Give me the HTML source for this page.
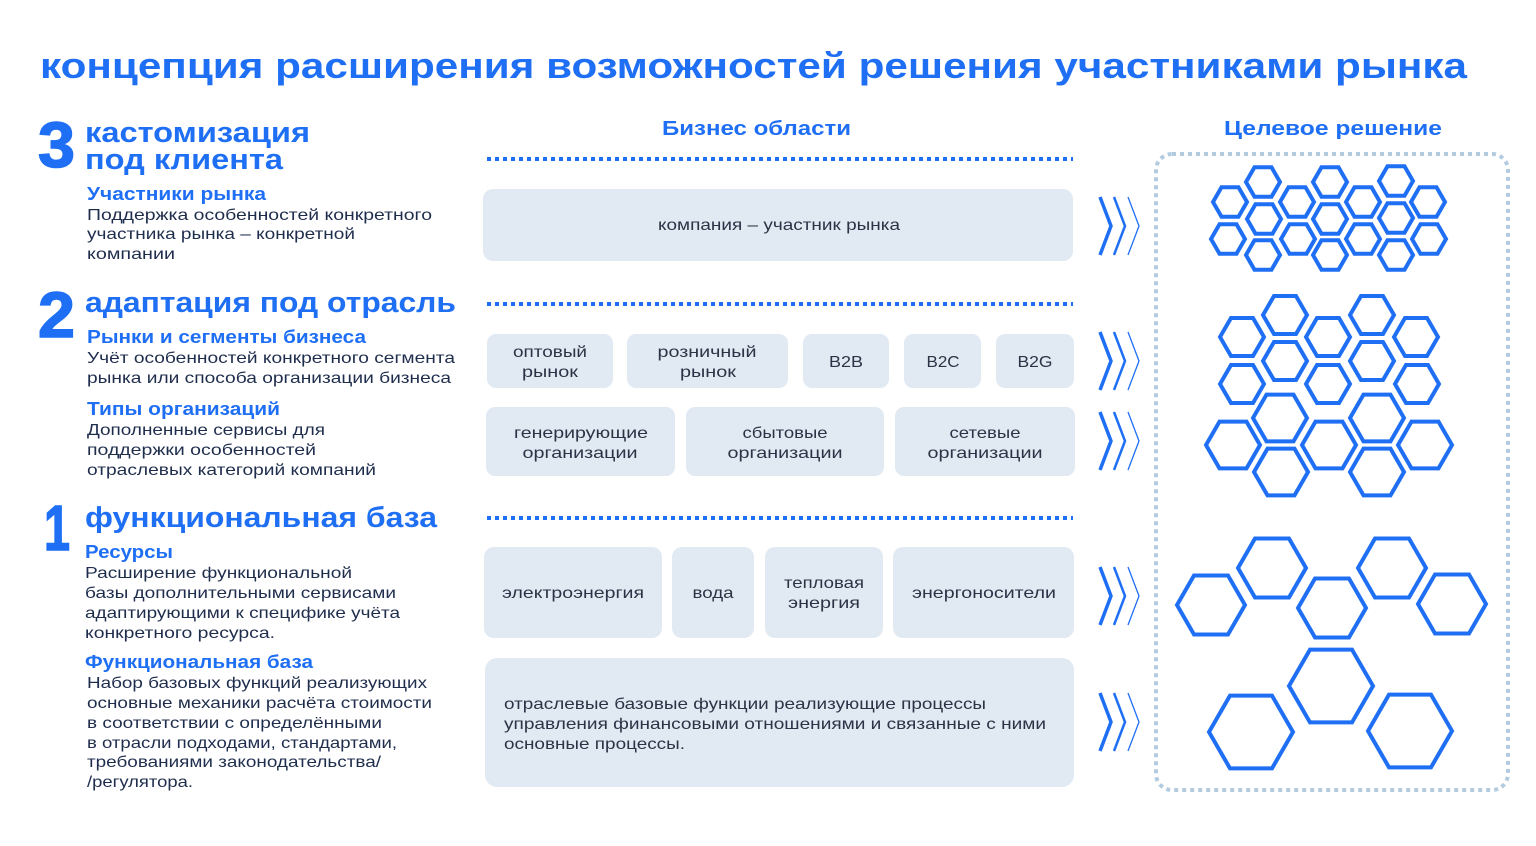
<!DOCTYPE html>
<html><head><meta charset="utf-8"><style>
html,body{margin:0;padding:0;background:#fff;}
svg{display:block;}
.t{font-family:"Liberation Sans",sans-serif;}
.h{font-weight:bold;fill:#1f6ff5;}
.n{font-weight:bold;fill:#1f6ff5;stroke:#1f6ff5;stroke-width:1.5;}
.b{fill:#1f2d4d;font-size:16px;}
.bx{fill:#e1e9f2;}
.c{fill:#2b3346;font-size:16px;text-anchor:middle;}
.hx{fill:none;stroke:#1f6ff5;stroke-width:4;}
.dl{stroke:#1f6ff5;stroke-width:4;stroke-dasharray:4 4;}
.ch{fill:none;stroke:#1f6ff5;}
</style></head><body>
<svg width="1536" height="846" viewBox="0 0 1536 846" xmlns="http://www.w3.org/2000/svg" class="t">
<defs>
<g id="chev">
<polyline class="ch" stroke-width="3.5" points="1100,197 1111,226 1100,255"/>
<polyline class="ch" stroke-width="2.5" points="1114,197 1125,226 1114,255"/>
<polyline class="ch" stroke-width="1.3" points="1128,197 1139,226 1128,255"/>
</g>
</defs>
<text class="t h" x="40" y="78" font-size="36" textLength="1427" lengthAdjust="spacingAndGlyphs">концепция расширения возможностей решения участниками рынка</text>

<!-- left column -->
<text class="n" x="38" y="167" font-size="64" textLength="37" lengthAdjust="spacingAndGlyphs">3</text>
<text class="h" x="85" y="142" font-size="29" textLength="225" lengthAdjust="spacingAndGlyphs">кастомизация</text>
<text class="h" x="85" y="169" font-size="29" textLength="198" lengthAdjust="spacingAndGlyphs">под клиента</text>
<text class="h" x="87" y="200" font-size="18" textLength="179" lengthAdjust="spacingAndGlyphs">Участники рынка</text>
<text class="b" x="87" y="220" textLength="345" lengthAdjust="spacingAndGlyphs">Поддержка особенностей конкретного</text>
<text class="b" x="87" y="239" textLength="268" lengthAdjust="spacingAndGlyphs">участника рынка – конкретной</text>
<text class="b" x="87" y="259" textLength="88" lengthAdjust="spacingAndGlyphs">компании</text>

<text class="n" x="38" y="337" font-size="64" textLength="37" lengthAdjust="spacingAndGlyphs">2</text>
<text class="h" x="85" y="312" font-size="29" textLength="371" lengthAdjust="spacingAndGlyphs">адаптация под отрасль</text>
<text class="h" x="87" y="343" font-size="18" textLength="279" lengthAdjust="spacingAndGlyphs">Рынки и сегменты бизнеса</text>
<text class="b" x="87" y="363" textLength="368" lengthAdjust="spacingAndGlyphs">Учёт особенностей конкретного сегмента</text>
<text class="b" x="87" y="383" textLength="364" lengthAdjust="spacingAndGlyphs">рынка или способа организации бизнеса</text>
<text class="h" x="87" y="415" font-size="18" textLength="193" lengthAdjust="spacingAndGlyphs">Типы организаций</text>
<text class="b" x="87" y="435" textLength="238" lengthAdjust="spacingAndGlyphs">Дополненные сервисы для</text>
<text class="b" x="87" y="455" textLength="229" lengthAdjust="spacingAndGlyphs">поддержки особенностей</text>
<text class="b" x="87" y="475" textLength="289" lengthAdjust="spacingAndGlyphs">отраслевых категорий компаний</text>

<text class="n" x="44" y="550" font-size="64" textLength="26" lengthAdjust="spacingAndGlyphs">1</text>
<text class="h" x="85" y="527" font-size="29" textLength="352" lengthAdjust="spacingAndGlyphs">функциональная база</text>
<text class="h" x="85" y="558" font-size="18" textLength="88" lengthAdjust="spacingAndGlyphs">Ресурсы</text>
<text class="b" x="85" y="578" textLength="267" lengthAdjust="spacingAndGlyphs">Расширение функциональной</text>
<text class="b" x="85" y="598" textLength="311" lengthAdjust="spacingAndGlyphs">базы дополнительными сервисами</text>
<text class="b" x="85" y="618" textLength="315" lengthAdjust="spacingAndGlyphs">адаптирующими к специфике учёта</text>
<text class="b" x="85" y="638" textLength="190" lengthAdjust="spacingAndGlyphs">конкретного ресурса.</text>
<text class="h" x="85" y="668" font-size="18" textLength="228" lengthAdjust="spacingAndGlyphs">Функциональная база</text>
<text class="b" x="87" y="688" textLength="340" lengthAdjust="spacingAndGlyphs">Набор базовых функций реализующих</text>
<text class="b" x="87" y="708" textLength="345" lengthAdjust="spacingAndGlyphs">основные механики расчёта стоимости</text>
<text class="b" x="87" y="728" textLength="295" lengthAdjust="spacingAndGlyphs">в соответствии с определёнными</text>
<text class="b" x="87" y="748" textLength="310" lengthAdjust="spacingAndGlyphs">в отрасли подходами, стандартами,</text>
<text class="b" x="87" y="767" textLength="294" lengthAdjust="spacingAndGlyphs">требованиями законодательства/</text>
<text class="b" x="87" y="787" textLength="106" lengthAdjust="spacingAndGlyphs">/регулятора.</text>

<!-- headers -->
<text class="h" x="662" y="135" font-size="20" textLength="189" lengthAdjust="spacingAndGlyphs">Бизнес области</text>
<text class="h" x="1224" y="135" font-size="20" textLength="218" lengthAdjust="spacingAndGlyphs">Целевое решение</text>

<line class="dl" x1="487" y1="159" x2="1073" y2="159"/>
<line class="dl" x1="487" y1="304" x2="1073" y2="304"/>
<line class="dl" x1="487" y1="518" x2="1073" y2="518"/>

<!-- boxes -->
<rect class="bx" x="483" y="189" width="590" height="72" rx="10"/>
<text class="c" x="779" y="230" textLength="242" lengthAdjust="spacingAndGlyphs">компания – участник рынка</text>

<rect class="bx" x="487" y="334" width="126" height="54" rx="9"/>
<text class="c" x="550" y="357" textLength="74" lengthAdjust="spacingAndGlyphs">оптовый</text><text class="c" x="550" y="377" textLength="56" lengthAdjust="spacingAndGlyphs">рынок</text>
<rect class="bx" x="627" y="334" width="161" height="54" rx="9"/>
<text class="c" x="707" y="357" textLength="99" lengthAdjust="spacingAndGlyphs">розничный</text><text class="c" x="708" y="377" textLength="56" lengthAdjust="spacingAndGlyphs">рынок</text>
<rect class="bx" x="803" y="334" width="86" height="54" rx="9"/>
<text class="c" x="846" y="367" textLength="34" lengthAdjust="spacingAndGlyphs">B2B</text>
<rect class="bx" x="904" y="334" width="77" height="54" rx="9"/>
<text class="c" x="943" y="367" textLength="33" lengthAdjust="spacingAndGlyphs">B2C</text>
<rect class="bx" x="996" y="334" width="78" height="54" rx="9"/>
<text class="c" x="1035" y="367" textLength="35" lengthAdjust="spacingAndGlyphs">B2G</text>

<rect class="bx" x="486" y="407" width="189" height="69" rx="9"/>
<text class="c" x="581" y="438" textLength="134" lengthAdjust="spacingAndGlyphs">генерирующие</text><text class="c" x="580" y="458" textLength="115" lengthAdjust="spacingAndGlyphs">организации</text>
<rect class="bx" x="686" y="407" width="198" height="69" rx="9"/>
<text class="c" x="785" y="438" textLength="85" lengthAdjust="spacingAndGlyphs">сбытовые</text><text class="c" x="785" y="458" textLength="115" lengthAdjust="spacingAndGlyphs">организации</text>
<rect class="bx" x="895" y="407" width="180" height="69" rx="9"/>
<text class="c" x="985" y="438" textLength="71" lengthAdjust="spacingAndGlyphs">сетевые</text><text class="c" x="985" y="458" textLength="115" lengthAdjust="spacingAndGlyphs">организации</text>

<rect class="bx" x="484" y="547" width="178" height="91" rx="10"/>
<text class="c" x="573" y="598" textLength="142" lengthAdjust="spacingAndGlyphs">электроэнергия</text>
<rect class="bx" x="672" y="547" width="82" height="91" rx="10"/>
<text class="c" x="713" y="598" textLength="41" lengthAdjust="spacingAndGlyphs">вода</text>
<rect class="bx" x="765" y="547" width="118" height="91" rx="10"/>
<text class="c" x="824" y="588" textLength="80" lengthAdjust="spacingAndGlyphs">тепловая</text><text class="c" x="824" y="608" textLength="72" lengthAdjust="spacingAndGlyphs">энергия</text>
<rect class="bx" x="893" y="547" width="181" height="91" rx="10"/>
<text class="c" x="984" y="598" textLength="144" lengthAdjust="spacingAndGlyphs">энергоносители</text>

<rect class="bx" x="485" y="658" width="589" height="129" rx="12"/>
<text class="b" style="fill:#2b3346" x="504" y="709" textLength="482" lengthAdjust="spacingAndGlyphs">отраслевые базовые функции реализующие процессы</text>
<text class="b" style="fill:#2b3346" x="504" y="729" textLength="542" lengthAdjust="spacingAndGlyphs">управления финансовыми отношениями и связанные с ними</text>
<text class="b" style="fill:#2b3346" x="504" y="749" textLength="181" lengthAdjust="spacingAndGlyphs">основные процессы.</text>

<!-- chevrons -->
<use href="#chev"/>
<use href="#chev" transform="translate(0,135)"/>
<use href="#chev" transform="translate(0,215)"/>
<use href="#chev" transform="translate(0,370)"/>
<use href="#chev" transform="translate(0,496)"/>

<!-- dotted frame -->
<rect x="1156" y="154" width="352" height="636" rx="16" fill="none" stroke="#b3cbe0" stroke-width="4" stroke-dasharray="4 4"/>

<!-- hexagons -->
<g id="hexes"></g>
<script>
(function(){
var ns="http://www.w3.org/2000/svg",g=document.getElementById("hexes");
function hx(cx,cy,r){var h=r*0.866,p=[[cx-r,cy],[cx-r/2,cy-h],[cx+r/2,cy-h],[cx+r,cy],[cx+r/2,cy+h],[cx-r/2,cy+h]];
var e=document.createElementNS(ns,"polygon");e.setAttribute("points",p.map(function(a){return a.join(",")}).join(" "));e.setAttribute("class","hx");g.appendChild(e);}
[[1230,202],[1228,239],[1263,182],[1264,219],[1263,255],[1297,202],[1298,239],[1330,182],[1330,219],[1330,255],[1363,202],[1363,239],[1396,181],[1396,218],[1396,255],[1428,202],[1429,239]].forEach(function(a){hx(a[0],a[1],17)});
[[1242,337],[1285,315],[1328,337],[1372,315],[1416,337],[1285,361],[1372,361],[1242,384],[1328,384],[1417,384]].forEach(function(a){hx(a[0],a[1],22)});
[[1280,418],[1377,418],[1233,445],[1329,445],[1425,445],[1281,472],[1377,472]].forEach(function(a){hx(a[0],a[1],27)});
[[1211,605],[1272,568],[1332,608],[1392,568],[1452,604]].forEach(function(a){hx(a[0],a[1],34)});
[[1251,732],[1331,686],[1410,731]].forEach(function(a){hx(a[0],a[1],42)});
})();
</script>
</svg>
</body></html>
